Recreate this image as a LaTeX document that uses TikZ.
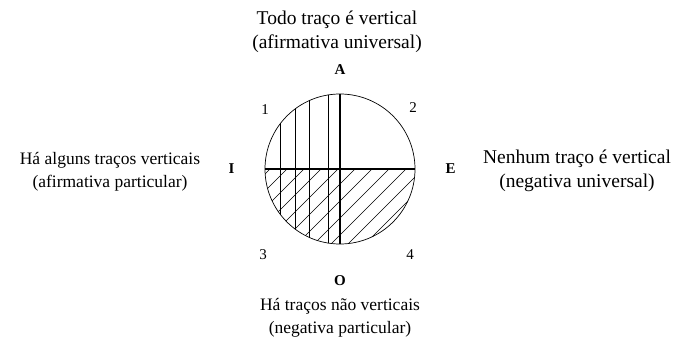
\documentclass[tikz,border=0pt]{standalone}
\usepackage{fontspec}
\setmainfont{Liberation Serif}
\usepackage{tikz}
\usetikzlibrary{positioning}

\begin{document}
\begin{tikzpicture}[
  x=1pt, y=-1pt,
  every node/.style={font=\fontsize{17.5}{23.5}\selectfont},
  caption/.style={align=center, inner sep=0pt},
  bigcaption/.style={caption, font=\fontsize{19.5}{24}\selectfont},
  vertex/.style={font=\fontsize{15}{17}\selectfont\bfseries, inner sep=0pt},
  corner/.style={font=\fontsize{15}{17}\selectfont, inner sep=0pt},
  diameter/.style={line width=1.6pt},
  hatch/.style={line width=0.5pt},
]
  \useasboundingbox (0,0) rectangle (679,340);

  \node[circle, draw, line width=0.7pt, minimum size=150pt, inner sep=0pt]
    (disc) at (340,169) {};

  % vertical and diagonal strokes
  \begin{scope}[shift={(disc.center)}]
    \clip (0,0) circle[radius=75pt];
    \foreach \d in {-60,-45,-31,-12}
      \draw[hatch] (\d,-80) -- (\d,80);
    \clip (-80,0) rectangle (80,80);
    \foreach \d in {-70,-53,-36,-19,-2,15,32,49,66,83,100}
      \draw[hatch] (\d+10,-10) -- (\d-90,90);
  \end{scope}

  \draw[diameter] (disc.west)  -- (disc.east);
  \draw[diameter] (disc.north) -- (disc.south);

  \node[vertex, above=19pt of disc] (A) {A};
  \node[vertex, below=31pt of disc] (O) {O};
  \node[vertex, left=30pt of disc]  (I) {I};
  \node[vertex, right=30pt of disc] (E) {E};

  \node[corner] (n1) at (265,110) {1};
  \node[corner] (n2) at (413,108) {2};
  \node[corner] (n3) at (263,255) {3};
  \node[corner] (n4) at (410,255) {4};

  \node[bigcaption] (todo) at (337,32)
    {Todo traço é vertical\\(afirmativa universal)};
  \node[caption] (alguns) at (110,172)
    {Há alguns traços verticais\\(afirmativa particular)};
  \node[bigcaption] (nenhum) at (577,171)
    {Nenhum traço é vertical\\(negativa universal)};
  \node[caption] (naover) at (340,318)
    {Há traços não verticais\\(negativa particular)};
\end{tikzpicture}
\end{document}
